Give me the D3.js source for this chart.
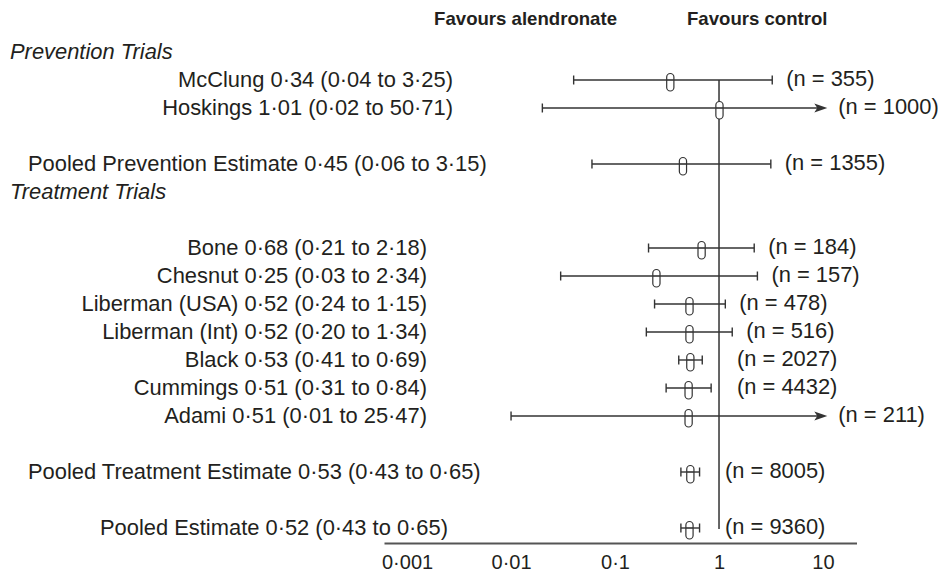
<!DOCTYPE html>
<html>
<head>
<meta charset="utf-8">
<script src="https://cdn.jsdelivr.net/npm/d3@7/dist/d3.min.js"></script>
<style>
  html, body { margin: 0; padding: 0; background: #fff; }
  svg { display: block; }
  text { font-family: "Liberation Sans", Arial, Helvetica, sans-serif; fill: #231f20; }
</style>
</head>
<body>
<svg id="chart" width="938" height="576"></svg>
<script>
// ---------------- data ----------------
const studies   = ["McClung", "Hoskings", "Pooled Prevention Estimate", "Bone", "Chesnut",
                   "Liberman (USA)", "Liberman (Int)", "Black", "Cummings", "Adami",
                   "Pooled Treatment Estimate", "Pooled Estimate"];
const kinds     = ["prev", "prev", "pooledPrev", "treat", "treat", "treat", "treat",
                   "treat", "treat", "treat", "pooledTreat", "pooledAll"];
const estimates = [0.34, 1.01, 0.45, 0.68, 0.25, 0.52, 0.52, 0.53, 0.51, 0.51, 0.53, 0.52];
const lowerCI   = [0.04, 0.02, 0.06, 0.21, 0.03, 0.24, 0.20, 0.41, 0.31, 0.01, 0.43, 0.43];
const upperCI   = [3.25, 50.71, 3.15, 2.18, 2.34, 1.15, 1.34, 0.69, 0.84, 25.47, 0.65, 0.65];
const sampleN   = [355, 1000, 1355, 184, 157, 478, 516, 2027, 4432, 211, 8005, 9360];
const sectionTitles = ["Prevention Trials", "Treatment Trials"];
const tickValues = [0.001, 0.01, 0.1, 1, 10];
const tickLabels = ["0·001", "0·01", "0·1", "1", "10"];
const sideLabels = ["Favours alendronate", "Favours control"];

// ---------------- layout ----------------
const svg = d3.select("#chart");
const x = d3.scaleLog().domain([0.0006, 21]).range([384, 856.5]);
const xMaxShown = 11;                 // arrow tip for truncated intervals
const rowStep = 28, rowTop = 52;
const rowY = i => rowTop + i * rowStep;
const slotOfKind = { prev: [1, 2], pooledPrev: [4], treat: [7, 8, 9, 10, 11, 12, 13], pooledTreat: [15], pooledAll: [17] };
const sectionSlots = [0, 5];
const counters = {};
const fmt = v => d3.format(".2f")(v).replace(".", "·");

const rows = studies.map((s, i) => {
  const k = kinds[i];
  counters[k] = (counters[k] || 0);
  const slot = slotOfKind[k][counters[k]++];
  return { name: s, kind: k, est: estimates[i], lo: lowerCI[i], hi: upperCI[i], n: sampleN[i], y: rowY(slot) };
});

const ink = "#333";
const labelFont = 21.9;

// header
svg.append("text").attr("x", x(1) - 102).attr("y", 25).attr("text-anchor", "end")
  .attr("font-weight", "bold").attr("font-size", 18.6).text(sideLabels[0]);
svg.append("text").attr("x", x(1) - 32).attr("y", 25).attr("text-anchor", "start")
  .attr("font-weight", "bold").attr("font-size", 18.6).text(sideLabels[1]);

// section titles
sectionTitles.forEach((t, i) => {
  svg.append("text").attr("x", 10).attr("y", rowY(sectionSlots[i]) + 7)
    .attr("font-style", "italic").attr("font-size", labelFont).text(t);
});

// left labels
const labelPos = {
  prev: { x: 453, anchor: "end" },
  treat: { x: 427, anchor: "end" },
  pooledPrev: { x: 28, anchor: "start" },
  pooledTreat: { x: 28, anchor: "start" },
  pooledAll: { x: 448, anchor: "end" }
};
svg.append("g").selectAll("text").data(rows).join("text")
  .attr("x", d => labelPos[d.kind].x)
  .attr("y", d => d.y + 7)
  .attr("text-anchor", d => labelPos[d.kind].anchor)
  .attr("font-size", labelFont)
  .text(d => `${d.name} ${fmt(d.est)} (${fmt(d.lo)} to ${fmt(d.hi)})`);

// reference line at 1
svg.append("line")
  .attr("x1", x(1)).attr("x2", x(1))
  .attr("y1", rows[0].y).attr("y2", rows[rows.length - 1].y + 1)
  .attr("stroke", ink).attr("stroke-width", 1.5);

// intervals
const g = svg.append("g");
rows.forEach(d => {
  const truncated = d.hi > xMaxShown;
  const x0 = x(d.lo), x1 = truncated ? x(xMaxShown) : x(d.hi);
  g.append("line").attr("x1", x0).attr("x2", truncated ? x1 - 6 : x1)
    .attr("y1", d.y).attr("y2", d.y).attr("stroke", ink).attr("stroke-width", 1.4);
  g.append("line").attr("x1", x0).attr("x2", x0).attr("y1", d.y - 4.5).attr("y2", d.y + 4.5)
    .attr("stroke", ink).attr("stroke-width", 1.4);
  if (truncated) {
    g.append("path")
      .attr("d", `M${x1},${d.y} L${x1 - 13},${d.y - 4.5} L${x1 - 10},${d.y} L${x1 - 13},${d.y + 4.5} Z`)
      .attr("fill", ink);
  } else {
    g.append("line").attr("x1", x1).attr("x2", x1).attr("y1", d.y - 4.5).attr("y2", d.y + 4.5)
      .attr("stroke", ink).attr("stroke-width", 1.4);
  }
  // capsule marker
  const cx = x(d.est);
  g.append("rect").attr("x", cx - 3.6).attr("y", d.y - 6.5).attr("width", 7.2).attr("height", 17.5)
    .attr("rx", 3.6).attr("ry", 3.6).attr("fill", "#fff").attr("stroke", ink).attr("stroke-width", 1.2);
  g.append("line").attr("x1", cx - 3.6).attr("x2", cx + 3.6).attr("y1", d.y).attr("y2", d.y)
    .attr("stroke", ink).attr("stroke-width", 1.6);

  // n label
  let nx;
  if (truncated) nx = x1 + 11;
  else if (d.hi >= 1) nx = x1 + 14;
  else nx = x(1) + (d.kind.startsWith("pooled") ? 6 : 18);
  g.append("text").attr("x", nx).attr("y", d.y + 6).attr("font-size", labelFont)
    .text(`(n = ${d.n})`);
});

// axis
const axis = d3.axisBottom(x).tickValues(tickValues)
  .tickFormat((v, i) => tickLabels[i]).tickSize(0).tickPadding(12);
const ax = svg.append("g").attr("transform", "translate(0,543)").call(axis);
ax.select(".domain").attr("stroke", "#555").attr("stroke-width", 2);
ax.selectAll("text").attr("font-size", 20).attr("fill", "#231f20")
  .attr("font-family", "'Liberation Sans', Arial, sans-serif");
</script>
</body>
</html>
